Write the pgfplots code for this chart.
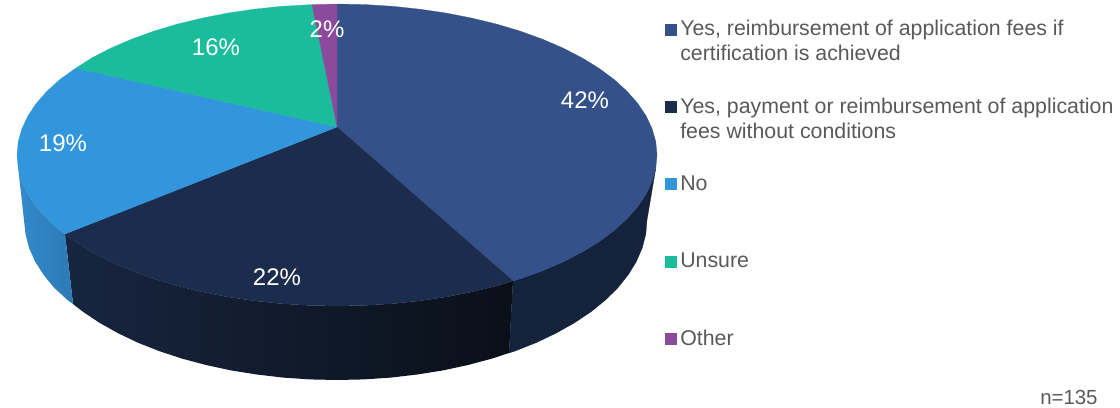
\documentclass[border=0pt]{standalone}
\usepackage{pgfplots}
\pgfplotsset{compat=1.18}
\usepackage{fontspec}
\setmainfont{Liberation Sans}
\definecolor{navy}{HTML}{34518A}
\definecolor{dark}{HTML}{1C2C4C}
\definecolor{sky}{HTML}{3296DC}
\definecolor{teal}{HTML}{1ABC9C}
\definecolor{plum}{HTML}{8B4A9B}
\definecolor{navyside}{HTML}{14223C}
\definecolor{darksideL}{HTML}{17253F}
\definecolor{darksideR}{HTML}{0A1018}
\definecolor{skysideL}{HTML}{338ACB}
\definecolor{skysideR}{HTML}{2C7AB5}
\definecolor{legtext}{HTML}{595959}
\newcommand{\legfont}{\fontsize{16}{19}\selectfont}
\newcommand{\valfont}{\fontsize{18}{21}\selectfont}
\begin{document}
\begin{tikzpicture}[
  legtxt/.style={anchor=base west, inner sep=0pt, text=legtext, font=\legfont},
  val/.style={anchor=center, inner sep=0pt, text=white, font=\valfont},
]
\begin{axis}[
  scale only axis, width=840pt, height=305.25pt,
  xmin=0, xmax=1120, ymin=0, ymax=407, y dir=reverse,
  hide axis, clip=false,
]
% walls of the pie
\addplot[draw=navyside, line width=0.2pt, fill=navyside] coordinates {
  (655.8,168.2)(652.1,181.2)(646.1,194.1)(637.7,206.6)(627,218.8)(614.1,230.5)
  (599.1,241.6)(582.1,252.1)(563.3,261.8)(542.7,270.7)(520.6,278.7)(513,281)
  (509,353)(514.8,351.1)(536.3,342.6)(556.2,333.1)(574.5,322.8)(591,311.8)
  (605.5,300)(618,287.6)(628.3,274.7)(636.4,261.4)(642.3,247.8)(645.8,234)(647,220)
} -- cycle;
\addplot[draw=none, left color=darksideL, right color=darksideR] coordinates {
  (513,281)(497,285.8)(472.2,291.8)(446.4,296.9)(419.8,300.8)(392.6,303.7)(364.9,305.4)
  (337,306)(309.1,305.4)(281.4,303.7)(254.2,300.8)(227.6,296.9)(201.8,291.8)(177,285.8)
  (153.4,278.7)(131.3,270.7)(110.7,261.8)(91.9,252.1)(74.9,241.6)(65,234)
  (73,304)(83,311.8)(99.5,322.8)(117.8,333.1)(137.7,342.6)(159.2,351.1)(182,358.6)
  (206,365)(231,370.4)(256.8,374.5)(283.2,377.6)(310,379.4)(337,380)(364,379.4)
  (390.8,377.6)(417.2,374.5)(443,370.4)(468,365)(492,358.6)(509,353)
} -- cycle;
\addplot[draw=none, left color=skysideL, right color=skysideR] coordinates {
  (65,234)(59.9,230.5)(47,218.8)(36.3,206.6)(27.9,194.1)(21.9,181.2)(18.2,168.2)
  (24,220)(25.5,234)(29,247.8)(35,261.4)(43.5,274.7)(54,287.6)(67.5,300)(73,304)
} -- cycle;
% top face
\addplot[draw=navy, line width=0.2pt, fill=navy] coordinates {
  (337,127)(337,4)(364.9,4.6)(392.6,6.3)(419.8,9.2)(446.4,13.1)(472.2,18.2)(497,24.2)
  (520.6,31.3)(542.7,39.3)(563.3,48.2)(582.1,57.9)(599.1,68.4)(614.1,79.5)(627,91.2)
  (637.7,103.4)(646.1,115.9)(652.1,128.8)(655.8,141.8)(657,155)(655.8,168.2)(652.1,181.2)
  (646.1,194.1)(637.7,206.6)(627,218.8)(614.1,230.5)(599.1,241.6)(582.1,252.1)(563.3,261.8)
  (542.7,270.7)(520.6,278.7)(513,281)
} -- cycle;
\addplot[draw=dark, line width=0.2pt, fill=dark] coordinates {
  (337,127)(513,281)(497,285.8)(472.2,291.8)(446.4,296.9)(419.8,300.8)(392.6,303.7)(364.9,305.4)
  (337,306)(309.1,305.4)(281.4,303.7)(254.2,300.8)(227.6,296.9)(201.8,291.8)(177,285.8)
  (153.4,278.7)(131.3,270.7)(110.7,261.8)(91.9,252.1)(74.9,241.6)(65,234)
} -- cycle;
\addplot[draw=sky, line width=0.2pt, fill=sky] coordinates {
  (337,127)(65,234)(59.9,230.5)(47,218.8)(36.3,206.6)(27.9,194.1)(21.9,181.2)(18.2,168.2)
  (17,155)(18.2,141.8)(21.9,128.8)(27.9,115.9)(36.3,103.4)(47,91.2)(59.9,79.5)(76,68)
} -- cycle;
\addplot[draw=teal, line width=0.2pt, fill=teal] coordinates {
  (337,127)(76,68)(91.9,57.9)(110.7,48.2)(131.3,39.3)(153.4,31.3)(177,24.2)(201.8,18.2)
  (227.6,13.1)(254.2,9.2)(281.4,6.3)(312,4.6)
} -- cycle;
\addplot[draw=plum, line width=0.2pt, fill=plum] coordinates {
  (337,127)(312,4.6)(337,4)
} -- cycle;
% legend keys
\addplot[only marks, mark=square*, mark size=4.1pt, navy] coordinates {(670.5,29.7)};
\addplot[only marks, mark=square*, mark size=4.1pt, dark] coordinates {(670.5,106.7)};
\addplot[only marks, mark=square*, mark size=4.1pt, sky] coordinates {(670.5,184)};
\addplot[only marks, mark=square*, mark size=4.1pt, teal] coordinates {(670.5,261.3)};
\addplot[only marks, mark=square*, mark size=4.1pt, plum] coordinates {(670.5,338.7)};
% values
\node[val] at (axis cs:585,100) {42\%};
\node[val] at (axis cs:277,277) {22\%};
\node[val] at (axis cs:63,143) {19\%};
\node[val] at (axis cs:216,47) {16\%};
\node[val] at (axis cs:327,29) {2\%};
% legend text
\node[legtxt] at (axis cs:680,35.7) {Yes, reimbursement of application fees if};
\node[legtxt] at (axis cs:680,60) {certification is achieved};
\node[legtxt] at (axis cs:680,113) {Yes, payment or reimbursement of application};
\node[legtxt] at (axis cs:680,138) {fees without conditions};
\node[legtxt] at (axis cs:680,190.7) {No};
\node[legtxt] at (axis cs:680,267.7) {Unsure};
\node[legtxt] at (axis cs:680,345) {Other};
\node[legtxt, font=\fontsize{15.3}{18}\selectfont] at (axis cs:1040,404) {n=135};
\end{axis}
\path[use as bounding box] (0,0) rectangle (840pt,305.25pt);
\end{tikzpicture}
\end{document}
